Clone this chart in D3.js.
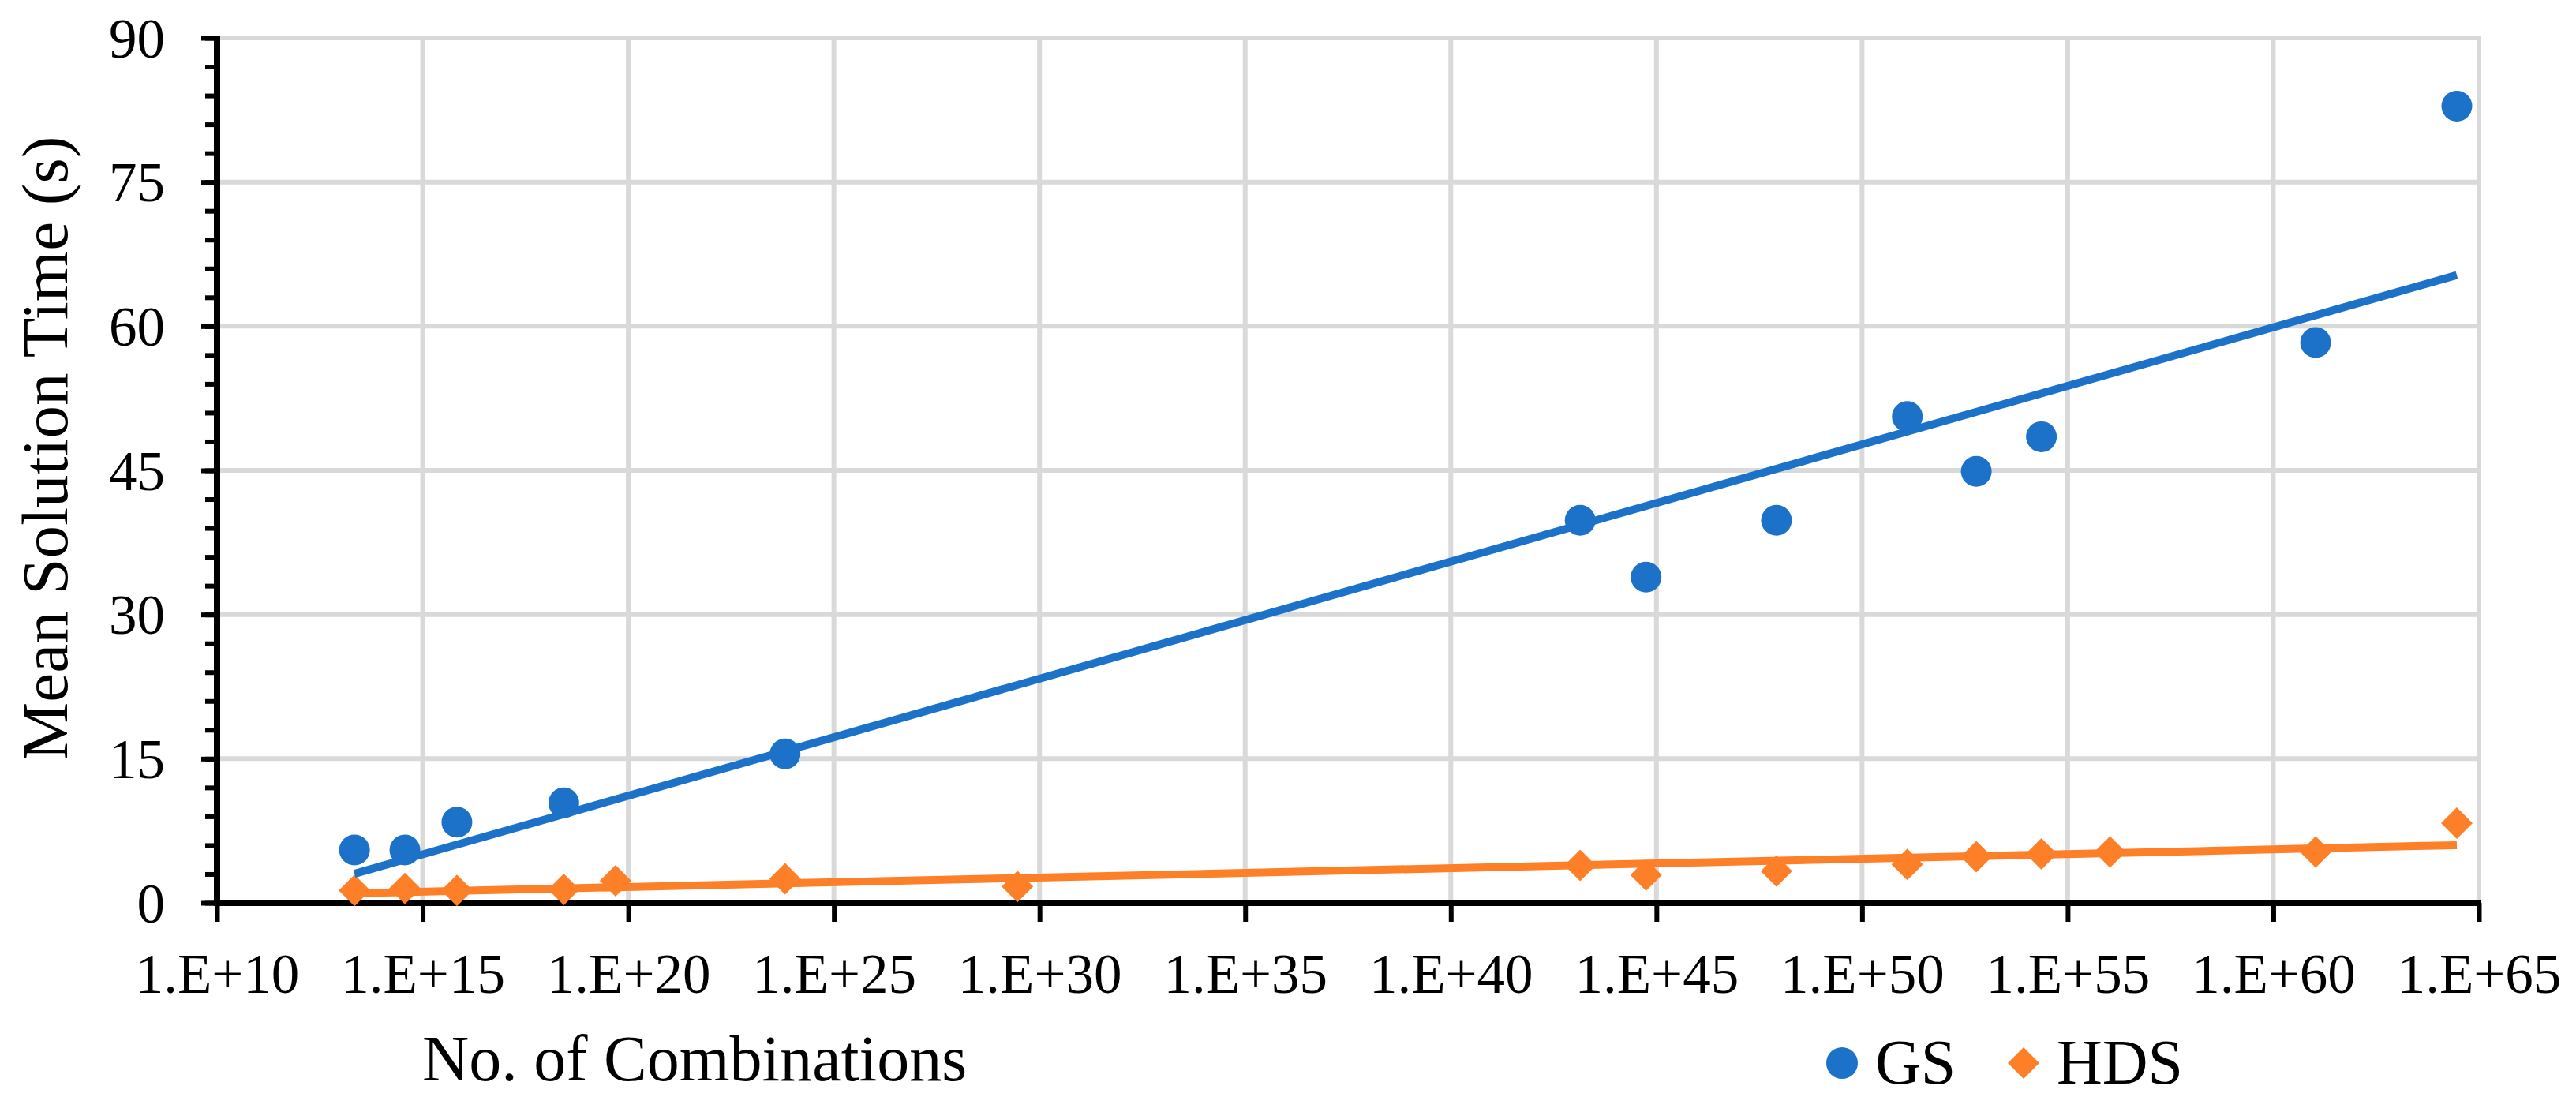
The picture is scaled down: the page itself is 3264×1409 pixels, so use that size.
<!DOCTYPE html>
<html lang="en">
<head>
<meta charset="UTF-8">
<title>Mean Solution Time vs No. of Combinations</title>
<script src="https://cdn.jsdelivr.net/npm/d3@7"></script>
<style>
  html, body { margin: 0; padding: 0; background: #fff; }
  text { font-family: "Liberation Serif", "Times New Roman", serif; fill: #000; }
</style>
</head>
<body>
<svg width="3264" height="1409"></svg>
<script>
// data
var gsX  = [2.2e13, 3.7e14, 6.8e15, 2.7e18, 6.5e23, 1.4e43, 5.6e44, 8.3e47, 1.26e51, 6.0e52, 2.3e54, 1.07e61, 2.9e64];
var gsY  = [5.5, 5.5, 8.4, 10.4, 15.5, 39.8, 33.9, 39.8, 50.6, 44.9, 48.5, 58.3, 82.9];
var hdsX = [2.2e13, 3.7e14, 6.8e15, 2.7e18, 4.9e19, 6.5e23, 2.9e29, 1.4e43, 5.6e44, 8.3e47, 1.26e51, 6.0e52, 2.3e54, 1.07e56, 1.07e61, 2.9e64];
var hdsY = [1.3, 1.5, 1.3, 1.4, 2.3, 2.5, 1.7, 3.9, 2.9, 3.3, 4.0, 4.8, 5.1, 5.3, 5.3, 8.3];

var xTickExp    = [10, 15, 20, 25, 30, 35, 40, 45, 50, 55, 60, 65];
var xTickLabels = ["1.E+10","1.E+15","1.E+20","1.E+25","1.E+30","1.E+35","1.E+40","1.E+45","1.E+50","1.E+55","1.E+60","1.E+65"];
var yTicks      = [0, 15, 30, 45, 60, 75, 90];
var yMinorTicks = d3.range(0, 91, 3);

var series = [
  { name: "GS",  x: gsX,  y: gsY,  color: "#1b72c8", shape: "circle" },
  { name: "HDS", x: hdsX, y: hdsY, color: "#fd7f28", shape: "diamond" }
];

var svg = d3.select("svg");
// plot area edges (note: "top" is reserved on window)
var pLeft = 275, pRight = 3141, pTop = 48, pBottom = 1144;

var x = d3.scaleLog().domain([1e10, 1e65]).range([pLeft, pRight]);
var y = d3.scaleLinear().domain([0, 90]).range([pBottom, pTop]);
var xTicks = xTickExp.map(function (e) { return Math.pow(10, e); });

// grid
var grid = svg.append("g").attr("stroke", "#d9d9d9").attr("stroke-width", 6);
grid.selectAll("line.h").data(yTicks.slice(1)).enter().append("line")
  .attr("x1", pLeft).attr("x2", pRight + 3)
  .attr("y1", function (d) { return y(d); }).attr("y2", function (d) { return y(d); });
grid.selectAll("line.v").data(xTicks.slice(1)).enter().append("line")
  .attr("y1", pTop - 3).attr("y2", pBottom)
  .attr("x1", function (d) { return x(d); }).attr("x2", function (d) { return x(d); });

// y axis: minor ticks, then major ticks with labels
var yMinor = svg.append("g").attr("transform", "translate(" + pLeft + ",0)")
  .call(d3.axisLeft(y).tickValues(yMinorTicks).tickSize(15).tickFormat(""));
var yAxis = svg.append("g").attr("transform", "translate(" + pLeft + ",0)")
  .call(d3.axisLeft(y).tickValues(yTicks).tickSize(20).tickPadding(46));
[yMinor, yAxis].forEach(function (a) {
  a.select(".domain").remove();
  a.selectAll(".tick line").attr("stroke", "#000").attr("stroke-width", 6);
});
yAxis.selectAll(".tick text").attr("font-size", 71).attr("dy", "0.34em");
svg.append("line").attr("x1", pLeft).attr("x2", pLeft).attr("y1", pTop - 3).attr("y2", pBottom + 4)
  .attr("stroke", "#000").attr("stroke-width", 8);

// x axis
var xAxis = svg.append("g").attr("transform", "translate(0," + pBottom + ")")
  .call(d3.axisBottom(x).tickValues(xTicks).tickSize(24).tickPadding(40)
    .tickFormat(function (d, i) { return xTickLabels[i]; }));
xAxis.select(".domain").remove();
xAxis.selectAll(".tick line").attr("stroke", "#000").attr("stroke-width", 6);
xAxis.selectAll(".tick text").attr("font-size", 71);
svg.append("line").attr("x1", pLeft - 4).attr("x2", pRight + 3).attr("y1", pBottom).attr("y2", pBottom)
  .attr("stroke", "#000").attr("stroke-width", 8);

// markers
var diamond = function (r) { return "M0," + (-r) + "L" + r + ",0L0," + r + "L" + (-r) + ",0Z"; };
series.forEach(function (s) {
  var g = svg.append("g").attr("fill", s.color);
  s.x.forEach(function (xv, i) {
    if (s.shape === "circle") {
      g.append("circle").attr("cx", x(xv)).attr("cy", y(s.y[i])).attr("r", 19.5);
    } else {
      g.append("path").attr("d", diamond(20))
        .attr("transform", "translate(" + x(xv) + "," + y(s.y[i]) + ")");
    }
  });
});

// logarithmic trendlines (least squares on log10 x)
series.forEach(function (s) {
  var lx = s.x.map(function (v) { return Math.log10(v); });
  var mx = d3.mean(lx), my = d3.mean(s.y);
  var sxy = d3.sum(lx, function (v, i) { return (v - mx) * (s.y[i] - my); });
  var sxx = d3.sum(lx, function (v) { return (v - mx) * (v - mx); });
  var slope = sxy / sxx, icpt = my - slope * mx;
  var ends = d3.extent(s.x);
  svg.append("path")
    .datum(ends)
    .attr("fill", "none").attr("stroke", s.color).attr("stroke-width", 10)
    .attr("d", d3.line()
      .x(function (v) { return x(v); })
      .y(function (v) { return y(icpt + slope * Math.log10(v)); }));
});

// axis titles
svg.append("text").attr("x", 535).attr("y", 1369).attr("font-size", 82)
  .text("No. of Combinations");
svg.append("text").attr("transform", "translate(85,568) rotate(-90)")
  .attr("text-anchor", "middle").attr("font-size", 83)
  .text("Mean Solution Time (s)");

// legend
var legend = svg.append("g").attr("transform", "translate(0,1347)");
legend.append("circle").attr("cx", 2334).attr("cy", 0).attr("r", 20).attr("fill", series[0].color);
legend.append("text").attr("x", 2376).attr("y", 26).attr("font-size", 80).text(series[0].name);
legend.append("path").attr("d", diamond(20)).attr("fill", series[1].color)
  .attr("transform", "translate(2564,0)");
legend.append("text").attr("x", 2606).attr("y", 26).attr("font-size", 80).text(series[1].name);
</script>
</body>
</html>
